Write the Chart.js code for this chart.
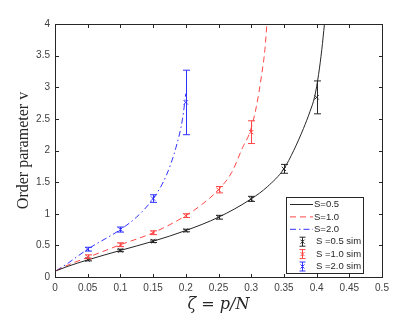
<!DOCTYPE html>
<html>
<head>
<meta charset="utf-8">
<script src="https://cdn.jsdelivr.net/npm/chart.js@4.4.0/dist/chart.umd.min.js"></script>
<style>
html, body { margin: 0; padding: 0; background: #fff; }
#wrap { width: 419px; height: 314px; }
</style>
</head>
<body>
<div id="wrap"><canvas id="orderChart" width="419" height="314"></canvas></div>
<script>
// theory curves
const zetaS05 = [0.002, 0.02, 0.05, 0.1, 0.15, 0.2, 0.25, 0.3, 0.325, 0.35, 0.365, 0.38, 0.39, 0.397, 0.403, 0.408, 0.412];
const vS05    = [0.1, 0.17, 0.27, 0.42, 0.565, 0.735, 0.945, 1.235, 1.43, 1.71, 2.0, 2.35, 2.62, 2.85, 3.2, 3.6, 4.0];
const zetaS10 = [0.002, 0.02, 0.05, 0.1, 0.15, 0.2, 0.225, 0.25, 0.27, 0.287, 0.298, 0.308, 0.316, 0.321, 0.324];
const vS10    = [0.1, 0.19, 0.31, 0.51, 0.70, 0.97, 1.15, 1.38, 1.65, 2.05, 2.29, 2.7, 3.2, 3.6, 4.0];
const zetaS20 = [0.002, 0.02, 0.05, 0.1, 0.125, 0.15, 0.17, 0.185, 0.195, 0.2];
const vS20    = [0.1, 0.22, 0.44, 0.75, 0.95, 1.24, 1.6, 2.05, 2.5, 2.9];

// simulation points with error bars
const simZetaS05 = [0.05, 0.1, 0.15, 0.2, 0.25, 0.3, 0.35, 0.4];
const simVS05    = [0.275, 0.42, 0.565, 0.735, 0.945, 1.235, 1.71, 2.84];
const simErrS05  = [0.02, 0.02, 0.02, 0.02, 0.03, 0.04, 0.07, 0.26];
const simZetaS10 = [0.05, 0.1, 0.15, 0.2, 0.25, 0.3];
const simVS10    = [0.32, 0.51, 0.70, 0.97, 1.38, 2.29];
const simErrS10  = [0.03, 0.03, 0.03, 0.03, 0.05, 0.18];
const simZetaS20 = [0.05, 0.1, 0.15, 0.2];
const simVS20    = [0.44, 0.75, 1.24, 2.76];
const simErrS20  = [0.03, 0.04, 0.06, 0.51];

const legendLabels = ['S=0.5', 'S=1.0', 'S=2.0', 'S =0.5 sim', 'S =1.0 sim', 'S =2.0 sim'];

const BLACK = '#262626';
const RED = 'rgb(255, 70, 70)';
const BLUE = 'rgb(50, 50, 255)';

function toPoints(xs, ys, errs) {
    return xs.map((x, i) => errs ? { x: x, y: ys[i], err: errs[i] } : { x: x, y: ys[i] });
}

function curve(label, xs, ys, color, dash) {
    return {
        label: label,
        data: toPoints(xs, ys),
        showLine: true,
        borderColor: color,
        borderWidth: 1,
        borderDash: dash,
        pointRadius: 0,
        cubicInterpolationMode: 'monotone',
        fill: false
    };
}

function sim(label, xs, ys, errs, color) {
    return {
        label: label,
        data: toPoints(xs, ys, errs),
        showLine: false,
        borderColor: color,
        backgroundColor: color,
        pointStyle: 'crossRot',
        pointRadius: 3,
        pointBorderWidth: 1,
        errorBars: true
    };
}

// matlab prints 0.5 not 0.50, 4 not 4.0
const tickFmt = v => String(+Number(v).toFixed(2));

// error bars + MATLAB style frame with inward ticks + legend box
const matlabPlugin = {
    id: 'matlab',
    afterDatasetsDraw(chart) {
        const ctx = chart.ctx;
        const xs = chart.scales.x, ys = chart.scales.y;
        chart.data.datasets.forEach(ds => {
            if (!ds.errorBars) return;
            ctx.save();
            ctx.strokeStyle = ds.borderColor;
            ctx.lineWidth = 1;
            ds.data.forEach(p => {
                const px = Math.round(xs.getPixelForValue(p.x)) + 0.5;
                const top = ys.getPixelForValue(p.y + p.err);
                const bot = ys.getPixelForValue(p.y - p.err);
                ctx.beginPath();
                ctx.moveTo(px, top); ctx.lineTo(px, bot);
                ctx.moveTo(px - 3.5, top); ctx.lineTo(px + 3.5, top);
                ctx.moveTo(px - 3.5, bot); ctx.lineTo(px + 3.5, bot);
                ctx.stroke();
            });
            ctx.restore();
        });
    },
    afterDraw(chart) {
        const ctx = chart.ctx;
        const a = chart.chartArea;
        const xs = chart.scales.x, ys = chart.scales.y;
        ctx.save();
        ctx.strokeStyle = BLACK;
        ctx.lineWidth = 1;
        const L = Math.round(a.left) + 0.5, R = Math.round(a.right) + 0.5;
        const T = Math.round(a.top) + 0.5, B = Math.round(a.bottom) + 0.5;
        ctx.strokeRect(L, T, R - L, B - T);
        ctx.beginPath();
        xs.ticks.forEach(t => {
            const px = Math.round(xs.getPixelForValue(t.value)) + 0.5;
            ctx.moveTo(px, B); ctx.lineTo(px, B - 3.5);
            ctx.moveTo(px, T); ctx.lineTo(px, T + 3.5);
        });
        ys.ticks.forEach(t => {
            const py = Math.round(ys.getPixelForValue(t.value)) + 0.5;
            ctx.moveTo(L, py); ctx.lineTo(L + 3.5, py);
            ctx.moveTo(R, py); ctx.lineTo(R - 3.5, py);
        });
        ctx.stroke();

        // legend
        const bx = 286.5, by = 197.5, bw = 77, bh = 76;
        ctx.fillStyle = '#fff';
        ctx.fillRect(bx, by, bw, bh);
        ctx.strokeStyle = BLACK;
        ctx.strokeRect(bx, by, bw, bh);
        ctx.font = '9.5px "Liberation Sans", Arial, sans-serif';
        ctx.textBaseline = 'middle';
        ctx.textAlign = 'left';
        chart.data.datasets.forEach((ds, i) => {
            const y = by + 7 + i * 12.4;
            ctx.strokeStyle = ds.borderColor;
            ctx.lineWidth = 1;
            if (ds.errorBars) {
                const cx = 302.5;
                ctx.beginPath();
                ctx.moveTo(cx, y - 4.5); ctx.lineTo(cx, y + 4.5);
                ctx.moveTo(cx - 3, y - 4.5); ctx.lineTo(cx + 3, y - 4.5);
                ctx.moveTo(cx - 3, y + 4.5); ctx.lineTo(cx + 3, y + 4.5);
                ctx.moveTo(cx - 2, y - 2); ctx.lineTo(cx + 2, y + 2);
                ctx.moveTo(cx - 2, y + 2); ctx.lineTo(cx + 2, y - 2);
                ctx.stroke();
                ctx.fillStyle = BLACK;
                ctx.fillText(legendLabels[i], 316, y);
            } else {
                ctx.setLineDash(ds.borderDash || []);
                ctx.beginPath();
                ctx.moveTo(290, y); ctx.lineTo(313, y);
                ctx.stroke();
                ctx.setLineDash([]);
                ctx.fillStyle = BLACK;
                ctx.fillText(legendLabels[i], 314, y);
            }
        });
        ctx.restore();
    }
};

new Chart(document.getElementById('orderChart').getContext('2d'), {
    type: 'scatter',
    data: {
        datasets: [
            curve(legendLabels[0], zetaS05, vS05, BLACK, []),
            curve(legendLabels[1], zetaS10, vS10, RED, [6, 4]),
            curve(legendLabels[2], zetaS20, vS20, BLUE, [6, 3, 1.5, 3]),
            sim(legendLabels[3], simZetaS05, simVS05, simErrS05, BLACK),
            sim(legendLabels[4], simZetaS10, simVS10, simErrS10, RED),
            sim(legendLabels[5], simZetaS20, simVS20, simErrS20, BLUE)
        ]
    },
    options: {
        responsive: false,
        animation: false,
        devicePixelRatio: 1,
        layout: { padding: { left: 0, right: 37, top: 24, bottom: 0 } },
        plugins: {
            legend: { display: false },
            tooltip: { enabled: false }
        },
        scales: {
            x: {
                type: 'linear',
                min: 0,
                max: 0.5,
                afterFit: s => { s.height = 37; },
                grid: { display: false, drawTicks: false },
                border: { display: false },
                ticks: {
                    stepSize: 0.05,
                    padding: 5,
                    color: '#404040',
                    maxRotation: 0,
                    autoSkip: false,
                    callback: tickFmt,
                    font: { family: '"Liberation Sans", Arial, sans-serif', size: 10 }
                },
                title: {
                    display: true,
                    text: 'ζ = p/N',
                    color: BLACK,
                    padding: { top: 0, bottom: 0 },
                    font: { family: '"DejaVu Serif", "Liberation Serif", serif', size: 16, style: 'italic' }
                }
            },
            y: {
                type: 'linear',
                min: 0,
                max: 4,
                afterFit: s => { s.width = 55; },
                grid: { display: false, drawTicks: false },
                border: { display: false },
                ticks: {
                    stepSize: 0.5,
                    padding: 5,
                    color: '#404040',
                    callback: tickFmt,
                    font: { family: '"Liberation Sans", Arial, sans-serif', size: 10 }
                },
                title: {
                    display: true,
                    text: 'Order parameter v',
                    color: BLACK,
                    padding: { top: 14, bottom: 0 },
                    font: { family: '"Liberation Serif", "DejaVu Serif", serif', size: 16 }
                }
            }
        }
    },
    plugins: [matlabPlugin]
});
</script>
</body>
</html>
